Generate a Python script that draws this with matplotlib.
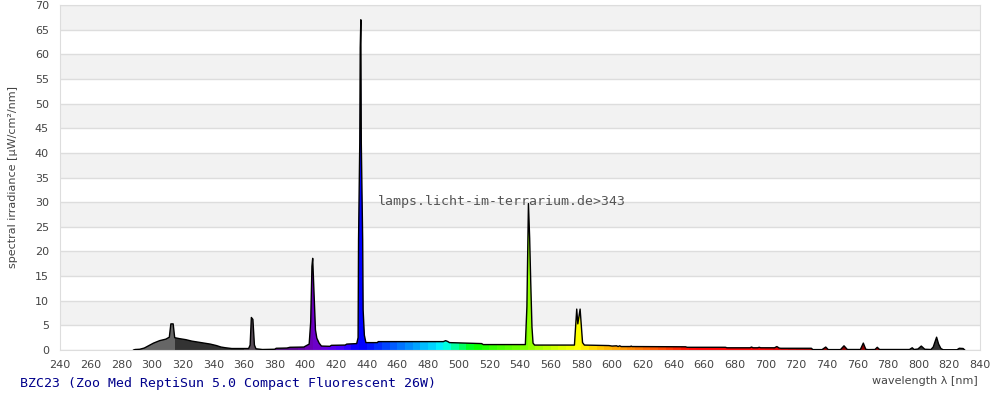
"""
Spectral irradiance of a compact fluorescent reptile lamp, with the area
under the curve coloured by wavelength.
"""
import numpy as np
import matplotlib
matplotlib.use("Agg")
import matplotlib.pyplot as plt
from matplotlib.colors import to_rgb
from matplotlib.patches import Polygon

# --- data --------------------------------------------------------------
wavelength_nm = [
    288, 289, 292, 295, 298, 301, 305, 309, 311.3, 312.3, 313.8, 314.8,
    318, 322, 326, 330, 334, 338, 342, 345, 348, 352, 363, 364, 364.8,
    365.8, 366.8, 367.8, 372, 380, 381, 388, 390, 399, 402.5, 403.5,
    404.3, 404.8, 405.4, 406, 406.6, 407.5, 409, 410.5, 416, 417, 426,
    427, 433.5, 434.4, 434.7, 435.5, 435.8, 436.2, 436.5, 437.4, 437.7,
    438.5, 439.5, 447, 447.5, 490, 491.5, 493, 494, 515, 516, 543.5,
    544.5, 545.5, 546.3, 547, 547.8, 548.5, 549.5, 575.5, 576.3, 577.0,
    577.7, 578.3, 579.2, 580.0, 580.8, 582, 598, 600, 603, 604, 605, 606,
    612, 612.5, 613, 648, 649, 674, 675, 690, 691, 692, 695, 696, 697,
    706, 707.5, 709, 710, 730, 731, 737, 739.4, 741, 749, 751.3, 753.5,
    762, 763.9, 765.5, 767, 771.5, 773, 774.5, 794, 795.8, 797, 799.5,
    801.7, 804, 808, 809.5, 811.7, 813, 814.5, 816, 825, 826.5, 829, 830,
]
irradiance = [
    0.0, 0.1, 0.15, 0.4, 0.9, 1.4, 1.9, 2.2, 2.6, 5.3, 5.3, 2.5,
    2.3, 2.1, 1.8, 1.6, 1.4, 1.2, 0.9, 0.6, 0.45, 0.3, 0.3, 1.0, 6.6,
    6.2, 1.0, 0.25, 0.1, 0.15, 0.35, 0.4, 0.55, 0.6, 1.2, 5.7,
    17.0, 18.6, 13.6, 9.0, 4.1, 2.4, 1.4, 0.8, 0.75, 0.95, 1.0,
    1.2, 1.3, 2.5, 22.3, 42.0, 61.3, 67.0, 42.0, 22.3, 8.1,
    3.0, 1.5, 1.5, 1.7, 1.7, 1.9, 1.7, 1.5, 1.3, 1.1, 1.1,
    8.8, 29.7, 22.7, 13.8, 4.7, 1.4, 1.0, 1.0, 5.0, 8.3,
    5.3, 6.5, 8.3, 5.0, 1.5, 1.0, 0.9, 0.8, 0.85, 0.7, 0.85, 0.7,
    0.7, 0.8, 0.7, 0.65, 0.55, 0.55, 0.45, 0.45, 0.6, 0.45, 0.45, 0.55, 0.45,
    0.45, 0.7, 0.4, 0.35, 0.35, 0.08, 0.08, 0.6, 0.08, 0.08, 0.85, 0.1,
    0.1, 1.4, 0.15, 0.08, 0.1, 0.55, 0.1, 0.1, 0.45, 0.1, 0.2,
    0.8, 0.15, 0.1, 0.6, 2.6, 1.2, 0.3, 0.05, 0.05, 0.35, 0.3, 0.0,
]

x_ticks = list(range(240, 841, 20))
y_ticks = list(range(0, 71, 5))

lamp_label = "BZC23 (Zoo Med ReptiSun 5.0 Compact Fluorescent 26W)"
watermark = "lamps.licht-im-terrarium.de>343"

# --- wavelength -> fill colour (style) ----------------------------------
COLOUR_STOPS = [
    (240, "#666666"), (314.9, "#666666"), (315.1, "#333333"),
    (359.9, "#333333"), (360.1, "#574b57"), (370, "#574b57"),
    (380, "#4a1a70"), (395, "#5a0095"), (405, "#7000c0"), (415, "#6000e8"),
    (425, "#4000ff"), (432, "#1000ff"), (437, "#0000ff"), (445, "#0020ff"),
    (455, "#0050ff"), (465, "#0080ff"), (475, "#00b0ff"), (485, "#00e0ff"),
    (490, "#00ffff"), (495, "#00ffc0"), (500, "#00ff80"), (505, "#00ff40"),
    (510, "#00ff00"), (525, "#40ff00"), (540, "#70ff00"), (550, "#a0ff00"),
    (565, "#d8ff00"), (578, "#ffff00"), (590, "#ffd000"), (605, "#ffa000"),
    (620, "#ff7000"), (635, "#ff4000"), (648, "#ff1000"), (655, "#ff0000"),
    (700, "#ff0000"), (720, "#b00000"), (740, "#8b0000"), (779, "#8b0000"),
    (781, "#333333"), (840, "#333333"),
]
GRID = "#dddddd"
BAND = "#f2f2f2"
TEXT = "#444444"

stop_x = np.array([s[0] for s in COLOUR_STOPS])
stop_rgb = np.array([to_rgb(s[1]) for s in COLOUR_STOPS])
block_centres = np.arange(242.5, 840, 5)  # colours change in 5 nm blocks
strip = np.stack([np.interp(block_centres, stop_x, stop_rgb[:, i]) for i in range(3)], axis=-1)

fig = plt.figure(figsize=(10, 4), dpi=100)
ax = fig.add_axes([0.06, 0.125, 0.92, 0.8625])

for lo in range(5, 70, 10):
    ax.axhspan(lo, lo + 5, color=BAND, zorder=0, lw=0)
for y in y_ticks:
    ax.axhline(y, color=GRID, lw=1, zorder=1)

# gradient image clipped to the area under the spectrum
verts = [(wavelength_nm[0], 0)] + list(zip(wavelength_nm, irradiance)) + [(wavelength_nm[-1], 0)]
area = Polygon(verts, closed=True, facecolor="none", edgecolor="none")
ax.add_patch(area)
im = ax.imshow(strip[np.newaxis, :, :], extent=[240, 840, 0, 70], aspect="auto",
               interpolation="nearest", origin="lower", zorder=2)
im.set_clip_path(area)
ax.plot(wavelength_nm, irradiance, color="black", lw=1, zorder=3)

ax.set_xlim(240, 840)
ax.set_ylim(0, 70)
ax.set_xticks(x_ticks)
ax.set_yticks(y_ticks)
ax.tick_params(length=0, labelsize=8, labelcolor=TEXT)
ax.tick_params(axis="x", pad=7)
ax.tick_params(axis="y", pad=8)
for side in ["left", "right", "top", "bottom"]:
    ax.spines[side].set_color(GRID)
ax.set_ylabel("spectral irradiance [µW/cm²/nm]", fontsize=8, color=TEXT, labelpad=12)

fig.text(0.978, 0.047, "wavelength λ [nm]", ha="right", va="center", fontsize=8, color=TEXT)
fig.text(0.02, 0.04, lamp_label, ha="left", va="center", fontsize=9.5,
         family="DejaVu Sans Mono", color="#00008b")
fig.text(0.378, 0.497, watermark, ha="left", va="center", fontsize=9.5,
         family="DejaVu Sans Mono", color="#555555", zorder=5)

fig.savefig("out.png", dpi=100)
plt.close(fig)
